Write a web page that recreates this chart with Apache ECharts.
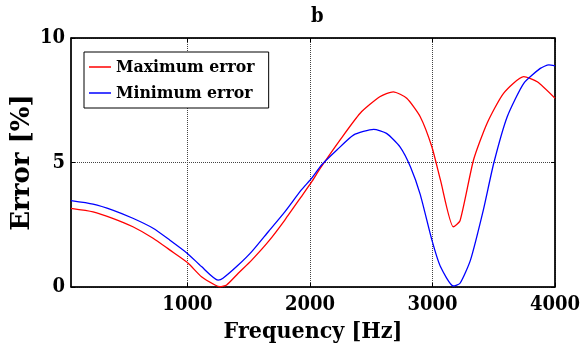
<html>
  <head>
    <meta charset="utf-8" />
    <title>b</title>
    <script type="text/javascript" src="https://cdn.jsdelivr.net/npm/echarts@6/dist/echarts.min.js"></script>
  </head>
  <body style="margin:0;">
      <div id="main" style="width:585px;height:351px;"></div>
      <script type="text/javascript">
        // values
        var freqMax = [50, 230, 390, 555, 720, 855, 1000, 1115, 1225, 1265, 1320, 1415, 1525, 1660, 1795, 1930, 2015, 2085,
                       2245, 2410, 2570, 2680, 2790, 2900, 2995, 3065, 3170, 3225, 3335, 3445, 3580, 3745, 3855, 4000];
        var errMax  = [3.16, 3.02, 2.76, 2.42, 1.96, 1.49, 0.98, 0.41, 0.08, 0.01, 0.08, 0.55, 1.08, 1.82, 2.69, 3.63, 4.23, 4.77,
                       5.9, 6.98, 7.64, 7.84, 7.58, 6.84, 5.63, 4.3, 2.42, 2.66, 5.1, 6.57, 7.78, 8.45, 8.24, 7.58];
        var freqMin = [50, 230, 390, 555, 720, 855, 1000, 1115, 1250, 1290, 1415, 1525, 1660, 1795, 1930, 2015, 2095, 2220,
                       2355, 2520, 2625, 2735, 2820, 2900, 2995, 3065, 3170, 3225, 3310, 3415, 3500, 3610, 3745, 3880, 3950, 4000];
        var errMin  = [3.47, 3.33, 3.09, 2.76, 2.36, 1.89, 1.35, 0.82, 0.28, 0.35, 0.88, 1.42, 2.22, 3.02, 3.9, 4.37, 4.9, 5.5,
                       6.1, 6.33, 6.17, 5.63, 4.83, 3.72, 1.89, 0.82, 0.04, 0.15, 1.08, 3.09, 4.97, 6.84, 8.18, 8.78, 8.92, 8.88];
        var xTicks = [1000, 2000, 3000, 4000];
        var seriesNames = ['Maximum error', 'Minimum error'];

        var font = '"DejaVu Serif Condensed", "DejaVu Serif", serif';

        function pairs(xs, ys) {
            return xs.map((x, i) => [x, ys[i]]);
        }

        var myChart = echarts.init(document.getElementById('main'));

        var option = {
          animation: false,
          title: {
              text: 'b',
              left: 306,
              top: 2,
              textStyle: { fontFamily: font, fontWeight: 'bold', fontSize: 20, color: '#000' }
          },
          legend: {
              orient: 'vertical',
              left: 84,
              top: 52,
              padding: [5, 14, 5, 5],
              itemGap: 6,
              itemWidth: 22,
              itemHeight: 1.5,
              icon: 'rect',
              backgroundColor: '#fff',
              borderColor: '#000',
              borderWidth: 1,
              data: seriesNames,
              textStyle: { fontFamily: font, fontWeight: 'bold', fontSize: 17.5, color: '#000', lineHeight: 20 }
          },
          grid: {
              left: 71, right: 30, top: 38, bottom: 64,
              outerBoundsMode: 'none',
              show: true, borderColor: '#000', borderWidth: 1
          },
          xAxis: [
            {
              type: 'value',
              min: 50,
              max: 4000,
              name: 'Frequency [Hz]',
              nameLocation: 'middle',
              nameGap: 34,
              nameTextStyle: { fontFamily: font, fontWeight: 'bold', fontSize: 23, color: '#000' },
              axisLine: { onZero: false, lineStyle: { color: '#000', width: 1.5 } },
              axisTick: { inside: true, length: 4, customValues: xTicks, lineStyle: { color: '#000' } },
              axisLabel: {
                  customValues: xTicks, margin: 8, formatter: v => String(v),
                  fontFamily: font, fontWeight: 'bold', fontSize: 20, color: '#000'
              },
              splitLine: { show: true, lineStyle: { color: '#444', type: [1, 1], width: 1 } }
            },
            {
              type: 'value',
              position: 'top',
              min: 50,
              max: 4000,
              axisLine: { show: true, onZero: false, lineStyle: { color: '#000', width: 1.5 } },
              axisTick: { show: true, inside: true, length: 4, customValues: xTicks, lineStyle: { color: '#000' } },
              axisLabel: { show: false },
              splitLine: { show: false }
            }
          ],
          yAxis: [
            {
              type: 'value',
              min: 0,
              max: 10,
              interval: 5,
              name: 'Error [%]',
              nameLocation: 'middle',
              nameGap: 36,
              nameRotate: 90,
              nameMoveOverlap: false,
              nameTextStyle: {
                  fontFamily: '"DejaVu Serif", serif', fontWeight: 'bold', fontSize: 26, color: '#000'
              },
              axisLine: { show: true, lineStyle: { color: '#000', width: 1.5 } },
              axisTick: { show: true, inside: true, length: 4, lineStyle: { color: '#000' } },
              axisLabel: { margin: 6, fontFamily: font, fontWeight: 'bold', fontSize: 20, color: '#000' },
              splitLine: { show: true, lineStyle: { color: '#444', type: [1, 1], width: 1 } }
            },
            {
              type: 'value',
              position: 'right',
              min: 0,
              max: 10,
              interval: 5,
              axisLine: { show: true, lineStyle: { color: '#000', width: 1.5 } },
              axisTick: { show: true, inside: true, length: 4, lineStyle: { color: '#000' } },
              axisLabel: { show: false },
              splitLine: { show: false }
            }
          ],
          series: [
            {
              name: seriesNames[0],
              type: 'line',
              symbol: 'none',
              smooth: 0.2,
              color: '#ff0000',
              lineStyle: { width: 1.3, color: '#ff0000' },
              data: pairs(freqMax, errMax)
            },
            {
              name: seriesNames[1],
              type: 'line',
              symbol: 'none',
              smooth: 0.2,
              color: '#0000ff',
              lineStyle: { width: 1.3, color: '#0000ff' },
              data: pairs(freqMin, errMin)
            }
          ]
        };
        myChart.setOption(option);
      </script>
  </body>
</html>
